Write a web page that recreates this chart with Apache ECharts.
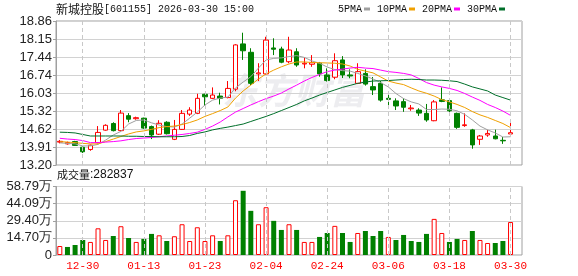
<!DOCTYPE html>
<html><head><meta charset="utf-8">
<script src="https://cdn.jsdelivr.net/npm/echarts@6/dist/echarts.min.js"></script>
<style>html,body{margin:0;padding:0;background:#fff}#c{width:578px;height:276px}</style>
</head><body><div id="c"></div>
<script>
const dates = ['12-25','12-26','12-29','12-30','12-31','01-05','01-06','01-07','01-08','01-09','01-12','01-13','01-14','01-15','01-16','01-19','01-20','01-21','01-22','01-23','01-26','01-27','01-28','01-29','01-30','02-02','02-03','02-04','02-05','02-06','02-09','02-10','02-11','02-12','02-13','02-24','02-25','02-26','02-27','03-02','03-03','03-04','03-05','03-06','03-09','03-10','03-11','03-12','03-13','03-16','03-17','03-18','03-19','03-20','03-23','03-24','03-25','03-26','03-27','03-30'];
const labelDates = ['12-30','01-13','01-23','02-04','02-24','03-06','03-18','03-30'];
const open  = [14.10,14.03,14.12,13.90,13.81,14.08,14.57,14.83,14.55,15.14,15.02,15.04,14.71,14.41,14.88,14.21,14.60,15.20,15.23,15.98,15.82,15.91,15.85,16.18,17.96,17.63,16.78,16.78,17.80,17.76,17.26,17.65,17.17,17.16,17.20,16.74,16.65,17.33,16.74,16.41,16.80,16.28,16.41,15.82,15.72,15.69,15.41,15.36,15.23,14.94,15.76,15.73,15.23,14.75,14.58,14.21,14.38,14.34,14.17,14.42];
const close = [14.13,14.08,13.97,13.72,13.98,14.48,14.76,14.55,15.24,15.00,15.06,14.65,14.38,14.84,14.43,14.60,15.23,15.36,15.82,15.88,15.95,15.82,16.21,17.92,17.69,16.41,16.82,18.11,17.75,17.24,17.72,17.13,17.20,17.22,16.78,16.52,17.30,16.74,16.70,16.87,16.38,16.15,15.75,15.78,15.52,15.47,15.44,15.24,14.97,15.68,15.70,15.33,14.68,14.78,13.99,14.34,14.44,14.23,14.15,14.47];
const low   = [14.05,14.00,13.95,13.67,13.76,14.05,14.55,14.52,14.52,14.88,14.98,14.62,14.22,14.38,14.40,14.18,14.58,15.13,15.20,15.52,15.80,15.58,15.82,16.10,17.33,16.34,16.50,16.75,17.52,17.20,17.20,17.06,17.00,17.06,16.67,16.48,16.57,16.62,16.61,16.38,16.32,15.95,15.69,15.49,15.36,15.29,15.33,15.13,14.90,14.92,15.67,15.24,14.62,14.70,13.84,13.99,14.31,14.21,14.03,14.38];
const high  = [14.18,14.12,14.15,13.92,14.00,14.73,14.80,14.88,15.36,15.24,15.10,15.06,14.75,14.96,14.92,14.97,15.36,15.47,16.00,16.00,16.25,16.04,16.50,17.95,18.40,17.79,17.20,18.24,18.18,17.85,18.24,17.79,17.42,17.52,17.25,17.00,17.59,17.48,16.96,17.20,16.96,16.66,16.50,15.95,15.82,15.82,15.56,15.43,15.60,15.75,16.25,15.83,15.26,15.23,14.62,14.38,14.58,14.59,14.30,14.93];
const volume = [7.7,6.9,8.6,12.9,11.2,22.9,12.9,16.3,24.7,14.6,11.2,13.8,18.1,16.9,12.0,16.1,26.4,12.0,23.8,12.0,16.9,12.0,16.9,47.0,55.1,37.9,26.4,41.0,29.3,21.5,26.4,21.5,11.2,11.2,15.5,18.9,25.0,18.9,11.2,18.9,20.6,16.3,20.6,15.5,12.9,17.2,12.0,11.2,18.1,31.0,18.9,11.2,13.8,12.9,20.6,12.9,10.3,10.3,12.0,28.2837];
const ma5  = [14.07,14.05,14.03,13.95,13.95,14.01,14.18,14.38,14.52,14.81,14.95,14.97,14.86,14.77,14.71,14.69,14.81,15.04,15.28,15.56,15.75,15.83,15.87,16.23,16.46,16.67,17.01,17.33,17.39,17.41,17.46,17.50,17.43,17.29,17.20,17.05,16.95,16.91,16.89,16.80,16.70,16.58,16.44,16.27,16.01,15.81,15.68,15.60,15.38,15.38,15.40,15.39,15.33,15.19,14.97,14.73,14.58,14.46,14.30,14.31];
const ma10 = [14.12,14.10,14.08,14.05,14.03,14.03,14.12,14.22,14.32,14.42,14.50,14.54,14.60,14.67,14.71,14.73,14.79,14.87,14.97,15.11,15.22,15.34,15.48,15.83,16.11,16.34,16.58,16.78,16.93,17.06,17.17,17.25,17.25,17.23,17.22,17.21,17.20,17.17,17.09,16.96,16.89,16.82,16.66,16.50,16.42,16.36,16.23,16.11,16.02,15.91,15.77,15.68,15.58,15.46,15.30,15.17,15.07,14.95,14.83,14.67];
const ma20 = [14.25,14.22,14.20,14.16,14.08,14.08,14.10,14.12,14.15,14.20,14.24,14.26,14.28,14.31,14.34,14.37,14.40,14.44,14.49,14.60,14.73,14.89,15.09,15.28,15.42,15.56,15.69,15.81,15.91,16.03,16.19,16.34,16.50,16.64,16.76,16.87,16.93,16.97,17.01,17.04,17.01,16.99,16.93,16.87,16.84,16.80,16.74,16.60,16.44,16.34,16.27,16.21,16.13,16.01,15.87,15.74,15.58,15.46,15.32,15.15];
const ma30 = [14.49,14.48,14.46,14.40,14.34,14.34,14.34,14.34,14.34,14.33,14.33,14.32,14.32,14.31,14.31,14.31,14.32,14.36,14.44,14.50,14.58,14.64,14.69,14.75,14.81,14.91,15.01,15.11,15.22,15.34,15.46,15.58,15.72,15.83,15.95,16.05,16.15,16.25,16.33,16.41,16.46,16.50,16.51,16.52,16.54,16.56,16.57,16.56,16.54,16.54,16.53,16.51,16.48,16.38,16.27,16.19,16.11,15.95,15.85,15.75];
const priceTicks = ['13.20','13.91','14.62','15.32','16.03','16.74','17.44','18.15','18.86'];
const volTicks = ['0','14.70万','29.40万','44.09万','58.79万'];

const RED = '#ff0000', GREEN = '#008000';
const chart = echarts.init(document.getElementById('c'), null, {renderer: 'canvas'});
const kData = dates.map((d, i) => [open[i], close[i], low[i], high[i]]);
const volData = volume.map((v, i) => {
  const up = i === 0 ? close[i] >= open[i] : close[i] >= close[i - 1];
  return {value: v, itemStyle: up ? {color: '#fff', borderColor: RED, borderWidth: 1} : {color: GREEN, borderColor: GREEN, borderWidth: 0}};
});
const vLines = labelDates.map(d => ({xAxis: d}));
const markLineCfg = {silent: true, symbol: 'none', label: {show: false}, animation: false,
  lineStyle: {color: '#c8c8c8', type: [4, 3], width: 1}, data: vLines};
const gridLine = {show: true, lineStyle: {color: '#d2d2d2', width: 1}};
const axisLabelStyle = {color: '#222', fontFamily: 'Liberation Sans', fontSize: 13, margin: 4};

const option = {
  animation: false,
  backgroundColor: '#fff',
  title: [
    {text: '{a|新城控股}{b|[601155] 2026-03-30 15:00}', left: 56, top: 3, padding: 0,
     textStyle: {fontWeight: 'normal', rich: {a: {fontFamily: 'Noto Sans CJK SC', fontSize: 12, fontWeight: 'normal', color: '#111'},
                        b: {fontFamily: 'Liberation Mono', fontSize: 10, fontWeight: 'normal', color: '#111'}}}},
    {text: '{a|成交量}{b|:' + Math.round(volume[volume.length - 1] * 10000) + '}', left: 57, top: 169, padding: 0,
     textStyle: {fontWeight: 'normal', rich: {a: {fontFamily: 'Noto Sans CJK SC', fontSize: 11, fontWeight: 'normal', color: '#111'},
                        b: {fontFamily: 'Liberation Sans', fontSize: 12, fontWeight: 'normal', color: '#111'}}}}
  ],
  legend: {
    left: 338, top: 4, padding: 0, itemGap: 7, itemWidth: 6, itemHeight: 3, align: 'right',
    icon: 'rect', selectedMode: false,
    textStyle: {fontFamily: 'Liberation Mono', fontSize: 10, color: '#111', padding: [0, -3, 0, 0]},
    data: ['5PMA', '10PMA', '20PMA', '30PMA']
  },
  graphic: [
    {type: 'text', left: 222, top: 72, z: 0, silent: true,
     style: {text: '东方财富', font: 'italic bold 36px "Noto Sans CJK SC"', fill: 'rgba(185,185,195,0.25)'}}
  ],
  grid: [
    {left: 56, top: 21, width: 466, height: 144, show: true, borderColor: '#a0a0a0', borderWidth: 1},
    {left: 56, top: 186.5, width: 466, height: 68.5, show: true, borderColor: '#a0a0a0', borderWidth: 1}
  ],
  xAxis: [
    {type: 'category', gridIndex: 0, data: dates, max: 60, boundaryGap: true,
     axisLine: {show: false}, axisTick: {show: false}, axisLabel: {show: false}, splitLine: {show: false}},
    {type: 'category', gridIndex: 1, data: dates, max: 60, boundaryGap: true,
     axisLine: {show: false}, axisTick: {show: false}, splitLine: {show: false},
     axisLabel: {color: RED, fontFamily: 'Liberation Mono', fontSize: 11, margin: 6,
                 interval: (idx, val) => labelDates.includes(val)}}
  ],
  yAxis: [
    {type: 'value', gridIndex: 0, min: 13.20, max: 18.86, show: false},
    {type: 'value', gridIndex: 0, min: 0, max: 8, interval: 1, position: 'left',
     axisLine: {show: true, lineStyle: {color: '#a0a0a0'}}, axisTick: {show: true, length: 3, lineStyle: {color: '#a0a0a0'}},
     axisLabel: Object.assign({formatter: v => priceTicks[v]}, axisLabelStyle), splitLine: gridLine},
    {type: 'value', gridIndex: 1, min: 0, max: 58.79, show: false},
    {type: 'value', gridIndex: 1, min: 0, max: 4, interval: 1, position: 'left',
     axisLine: {show: true, lineStyle: {color: '#a0a0a0'}}, axisTick: {show: true, length: 3, lineStyle: {color: '#a0a0a0'}},
     axisLabel: Object.assign({formatter: v => volTicks[v]}, axisLabelStyle), splitLine: gridLine}
  ],
  series: [
    {name: 'K', type: 'candlestick', xAxisIndex: 0, yAxisIndex: 0, data: kData, barWidth: 5,
     itemStyle: {color: '#fff', color0: GREEN, borderColor: RED, borderColor0: GREEN, borderWidth: 1},
     markLine: markLineCfg},
    {name: '5PMA', type: 'line', xAxisIndex: 0, yAxisIndex: 0, data: ma5, showSymbol: false, symbol: 'none',
     lineStyle: {color: '#a0a0a0', width: 1}, itemStyle: {color: '#a0a0a0'}},
    {name: '10PMA', type: 'line', xAxisIndex: 0, yAxisIndex: 0, data: ma10, showSymbol: false, symbol: 'none',
     lineStyle: {color: '#f0a000', width: 1}, itemStyle: {color: '#f0a000'}},
    {name: '20PMA', type: 'line', xAxisIndex: 0, yAxisIndex: 0, data: ma20, showSymbol: false, symbol: 'none',
     lineStyle: {color: '#ff00ff', width: 1}, itemStyle: {color: '#ff00ff'}},
    {name: '30PMA', type: 'line', xAxisIndex: 0, yAxisIndex: 0, data: ma30, showSymbol: false, symbol: 'none',
     lineStyle: {color: '#006f2a', width: 1}, itemStyle: {color: '#006f2a'}},
    {name: 'VOL', type: 'bar', xAxisIndex: 1, yAxisIndex: 2, data: volData, barWidth: 5,
     markLine: markLineCfg}
  ]
};
chart.setOption(option);
</script>
</body></html>
